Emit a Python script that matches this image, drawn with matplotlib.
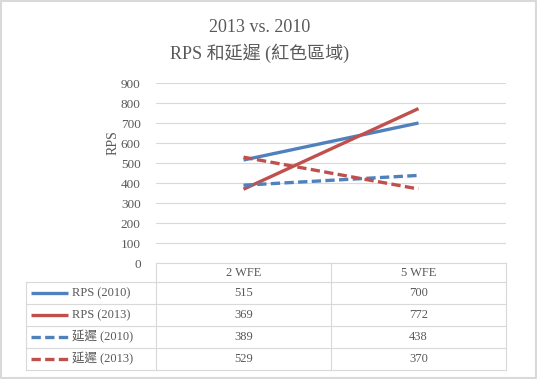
import matplotlib
matplotlib.use('Agg')
import matplotlib.pyplot as plt

plt.rcParams['font.family'] = ['Liberation Serif', 'Noto Sans CJK TC', 'DejaVu Sans']

categories = ['2 WFE', '5 WFE']
series_names = ['RPS (2010)', 'RPS (2013)', '延遲 (2010)', '延遲 (2013)']
rps_2010 = [515, 700]
rps_2013 = [369, 772]
delay_2010 = [389, 438]
delay_2013 = [529, 370]
series_values = [rps_2010, rps_2013, delay_2010, delay_2013]
series_colors = ['#4F81BD', '#C0504D', '#4F81BD', '#C0504D']
series_styles = ['-', '-', '--', '--']
yticks = list(range(0, 1000, 100))

W, H = 537, 379
txt = '#595959'
grid = '#D9D9D9'
dash = (2.8, 1.3)

fig = plt.figure(figsize=(W / 100, H / 100), dpi=100)

# plot area in pixel coords
pl, pr, pt, pb = 156, 506, 83, 263
ax = fig.add_axes([pl / W, 1 - pb / H, (pr - pl) / W, (pb - pt) / H])
x = list(range(len(categories)))
for vals, c, ls in zip(series_values, series_colors, series_styles):
    ax.plot(x, vals, color=c, ls=ls, lw=2.4, solid_capstyle='butt',
            dashes=dash if ls == '--' else (None, None))
ax.set_xlim(-0.5, len(categories) - 0.5)
ax.set_ylim(0, 900)
ax.set_yticks(yticks)
ax.set_xticks([])
ax.grid(axis='y', color=grid, lw=0.8)
ax.set_axisbelow(True)
for s in ax.spines.values():
    s.set_visible(False)
ax.tick_params(axis='y', length=0, labelsize=9.5, labelcolor=txt, pad=11)
ax.text(113 / W, 1 - 143 / H, 'RPS', transform=fig.transFigure, rotation=90,
        ha='center', va='center', fontsize=10, color=txt)

# title
fig.text(260 / W, 1 - 28 / H, '2013 vs. 2010', ha='center', va='center',
         fontsize=13, color=txt)
fig.text(260 / W, 1 - 53 / H, 'RPS 和延遲 (紅色區域)', ha='center', va='center',
         fontsize=13, color=txt)

# data table overlay in pixel coordinates
ov = fig.add_axes([0, 0, 1, 1])
ov.set_xlim(0, W)
ov.set_ylim(H, 0)
ov.axis('off')
tl = 26
rows = [263, 282, 304, 326, 348, 370]
cols = [pl, 331, pr]
ov.plot([pl, pr], [rows[0], rows[0]], color=grid, lw=0.8)
for r in rows[1:]:
    ov.plot([tl, pr], [r, r], color=grid, lw=0.8)
ov.plot([tl, tl], [rows[1], rows[-1]], color=grid, lw=0.8)
for c in cols:
    ov.plot([c, c], [rows[0], rows[-1]], color=grid, lw=0.8)
for j, cat in enumerate(categories):
    ov.text((cols[j] + cols[j + 1]) / 2, (rows[0] + rows[1]) / 2 + 1, cat,
            ha='center', va='center', fontsize=9, color=txt)
for i, (name, vals, c, ls) in enumerate(zip(series_names, series_values,
                                             series_colors, series_styles)):
    yc = (rows[i + 1] + rows[i + 2]) / 2
    ov.plot([31, 68], [yc, yc], color=c, lw=2.4, ls=ls, solid_capstyle='butt',
            dashes=dash if ls == '--' else (None, None))
    ov.text(72, yc, name, ha='left', va='center', fontsize=9, color=txt)
    for j, v in enumerate(vals):
        ov.text((cols[j] + cols[j + 1]) / 2, yc, str(v), ha='center',
                va='center', fontsize=9, color=txt)

# chart border
ov.plot([1, W - 1, W - 1, 1, 1], [1, 1, H - 1, H - 1, 1], color='#D9D9D9', lw=1.5)

fig.savefig('out.png', dpi=100)
